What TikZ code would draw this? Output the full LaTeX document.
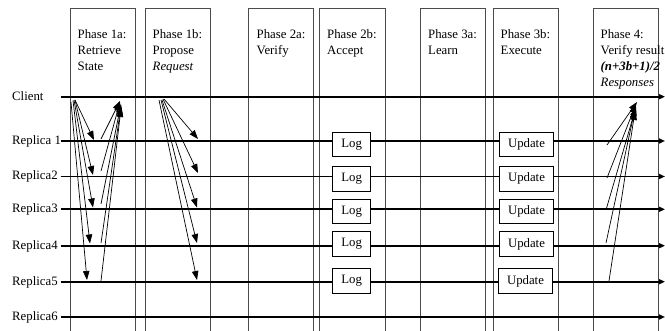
\documentclass[tikz,border=0pt]{standalone}
\usepackage{fontspec}
\setmainfont{Liberation Serif}
\usetikzlibrary{arrows.meta}
\begin{document}
\begin{tikzpicture}[x=1pt,y=-1pt,
  phasebox/.style={draw=black!70, line width=0.9pt, minimum width=65pt,
    minimum height=340pt, anchor=north west, inner sep=0pt},
  phasetext/.style={anchor=north west, align=left, inner sep=0pt,
    font=\fontsize{12.8}{16}\selectfont},
  rowlabel/.style={anchor=base west, inner sep=0pt,
    font=\fontsize{12.8}{16}\selectfont},
  timeline/.style={line width=1.8pt, -{Triangle[length=6pt,width=5pt]}},
  stepbox/.style={draw, line width=0.8pt, fill=white, minimum height=24.5pt,
    inner sep=0pt, font=\fontsize{12.8}{16}\selectfont},
  msg/.style={line width=0.7pt, -{Triangle[length=9pt,width=6.5pt]}},
]
\useasboundingbox (0,0) rectangle (665,331);
\clip (0,0) rectangle (665,331);
\fill[white] (0,0) rectangle (665,331);

% phase columns
\node[phasebox] (p1a) at (70,8) {};
\node[phasebox] (p1b) at (145,8) {};
\node[phasebox] (p2a) at (248,8) {};
\node[phasebox, minimum width=66pt] (p2b) at (319,8) {};
\node[phasebox] (p3a) at (420,8) {};
\node[phasebox] (p3b) at (493,8) {};
\node[phasebox] (p4) at (593,8) {};

% phase captions
\node[phasetext] (t1a) at (77.5,29.5) {Phase 1a:\\Retrieve\\State};
\node[phasetext] (t1b) at (152.5,29.5) {Phase 1b:\\Propose\\\textit{Request}};
\node[phasetext] (t2a) at (256.5,29.5) {Phase 2a:\\Verify};
\node[phasetext] (t2b) at (327,29.5) {Phase 2b:\\Accept};
\node[phasetext] (t3a) at (428,29.5) {Phase 3a:\\Learn};
\node[phasetext] (t3b) at (500.5,29.5) {Phase 3b:\\Execute};
\node[phasetext] (t4) at (600.5,29.5) {Phase 4:\\Verify result\\\textbf{\textit{(n+3b+1)/2}}\\\textit{Responses}};

% time lines of the participants
\foreach \name/\txt/\y in {client/Client/96.7, r1/Replica 1/141, r2/Replica2/176.5,
    r3/Replica3/209.3, r4/Replica4/245.7, r5/Replica5/281.7, r6/Replica6/317} {
  \node[rowlabel] (\name lab) at (12,\y+3.5) {\txt};
  \coordinate (\name L) at (60.5,\y);
  \coordinate (\name R) at (665,\y);
  \draw[timeline] (\name L) -- (\name R);
}

% log and update steps
\foreach \i/\y in {1/144.5, 2/178.7, 3/211.3, 4/244} {
  \node[stepbox, minimum width=38pt] (log\i) at (351.7,\y) {Log};
  \node[stepbox, minimum width=54.5pt] (upd\i) at (526.5,\y) {Update};
}
\node[stepbox, minimum width=38pt] (log5) at (351.7,281) {Log};
\node[stepbox, minimum width=54.5pt] (upd5) at (525.5,281) {Update};

% phase 1a: client queries replicas
\foreach \i/\sx/\sy/\tx/\ty in {1/75/100/94/140, 2/75/100/93/175, 3/74/100/93/207.5,
    4/73/100.5/90/243.5, 5/71/102/87/280} {
  \coordinate (qs\i) at (\sx,\sy);
  \coordinate (qt\i) at (\tx,\ty);
  \draw[msg] (qs\i) -- (qt\i);
}
% phase 1a: replicas answer
\foreach \i/\sx/\sy/\tx/\ty in {1/101/139/120/101, 2/101/171/120/102, 3/101/204/121/104,
    4/101/243/121/106, 5/101/281/121/108} {
  \coordinate (as\i) at (\sx,\sy);
  \coordinate (at\i) at (\tx,\ty);
  \draw[msg] (as\i) -- (at\i);
}
% phase 1b: client proposes request
\foreach \i/\sx/\sy/\tx/\ty in {1/164/99/198/139, 2/163/99/198/173, 3/162/100/197/207.5,
    4/161/100/197/243, 5/159/100/197/280} {
  \coordinate (ps\i) at (\sx,\sy);
  \coordinate (pt\i) at (\tx,\ty);
  \draw[msg] (ps\i) -- (pt\i);
}
% phase 4: replicas send responses
\foreach \i/\sx/\sy/\tx/\ty in {1/607/145/637/102, 2/607/178/636/104, 3/606/210/636/107,
    4/606/243/635/109, 5/609/281/635/111} {
  \coordinate (rs\i) at (\sx,\sy);
  \coordinate (rt\i) at (\tx,\ty);
  \draw[msg] (rs\i) -- (rt\i);
}
\end{tikzpicture}
\end{document}
